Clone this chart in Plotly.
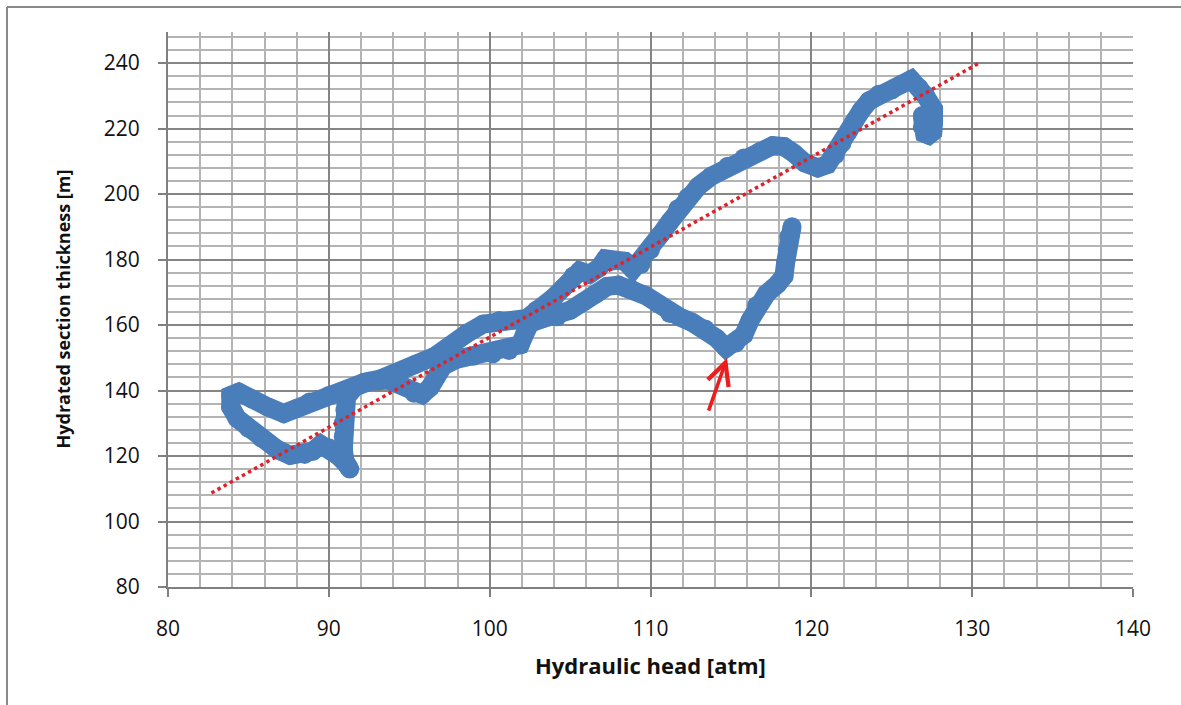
import plotly.graph_objects as go

# Hydraulic head [atm] vs hydrated section thickness [m], traced in time order
head_atm = [
    126.9, 126.9, 127.05, 127.3, 127.55, 127.6, 127.6, 127.1, 126.7, 126.2, 125.6, 125.0, 124.2, 123.6,
    123.1, 122.7, 122.3, 121.9, 121.5, 121.0, 120.4, 119.6, 118.9, 118.3,
    117.6, 116.8, 115.8, 114.8, 113.8, 113.0, 112.3, 111.7, 111.2, 110.6,
    110.0, 109.4, 108.9, 108.4, 107.6, 107.2, 106.8, 106.2, 105.6, 105.2,
    104.6, 104.0, 103.4, 102.9, 102.3, 101.5, 100.6, 99.6, 98.6, 97.6,
    96.6, 95.4, 94.3, 93.2, 92.2, 91.2, 90.0, 88.8, 88.0, 87.2,
    86.2, 85.2, 84.4, 83.9, 83.9, 84.3, 85.0, 85.8, 86.8, 87.6,
    88.5, 89.0, 89.5, 90.0, 90.6, 91.1, 91.3, 91.0, 90.9, 90.9,
    90.9, 91.0, 91.1, 91.6, 92.5, 93.7, 94.6, 95.3, 95.8, 96.3,
    96.7, 97.1, 97.9, 99.0, 100.2, 101.2, 101.9, 102.2, 102.5, 103.2,
    104.2, 105.0, 105.8, 106.6, 107.3, 108.0, 108.8, 109.7, 110.5, 111.2,
    111.8, 112.6, 113.4, 114.1, 114.7, 115.3, 115.8, 116.2, 116.6, 117.2,
    117.9, 118.3, 118.4, 118.5, 118.6, 118.8,
]
thickness_m = [
    224.0, 220.5, 218.5, 218.0, 219.0, 222.0, 226.0, 230.0, 232.5, 235.0, 233.5, 231.8, 230.5, 228.5,
    225.5, 222.5, 219.0, 215.5, 212.0, 209.0, 208.0, 209.5, 212.5, 214.5,
    214.8, 213.0, 211.0, 208.5, 205.5, 202.5, 199.0, 195.5, 191.5, 187.5,
    183.0, 178.5, 177.0, 179.5, 179.5, 180.2, 177.5, 175.5, 176.5, 175.0,
    171.5, 168.5, 166.0, 164.5, 162.0, 161.5, 161.4, 160.3, 157.5, 153.5,
    150.5, 148.0, 145.5, 143.5, 142.5, 140.5, 138.5, 136.5, 134.5, 133.0,
    135.0, 137.5, 139.5, 138.5, 135.0, 131.5, 128.5, 125.5, 122.0, 120.2,
    120.5, 121.5, 123.5, 122.5, 120.0, 117.5, 116.0, 118.5, 122.0, 126.0,
    130.0, 134.0, 138.0, 141.0, 142.8, 143.2, 141.5, 139.2, 138.8, 141.0,
    144.5, 147.5, 149.5, 150.5, 151.2, 152.2, 154.0, 157.5, 160.5, 161.8,
    162.5, 164.5, 167.0, 169.5, 171.8, 172.2, 171.0, 169.0, 166.5, 163.5,
    162.5, 160.8, 158.8, 156.0, 153.0, 154.5, 157.0, 161.5, 166.0, 169.5,
    172.5, 175.0, 179.0, 183.0, 187.0, 190.0,
]

# Linear trend line end points
trend_x = [82.7, 130.5]
trend_y = [108.7, 240.2]

# Arrow marking the minimum of the lower branch (tail -> tip)
arrow_tail = [113.58, 133.4]
arrow_tip = [114.76, 149.9]

x_ticks = [80, 90, 100, 110, 120, 130, 140]
y_ticks = [80, 100, 120, 140, 160, 180, 200, 220, 240]

BLUE = "#4A7EBB"
RED = "#E0202A"
AXIS = "#808080"
FONT = "Open Sans"
TEXT = "#111111"

fig = go.Figure()

fig.add_trace(go.Scatter(
    x=head_atm, y=thickness_m, mode="lines+markers",
    line=dict(color=BLUE, width=19),
    marker=dict(color=BLUE, size=19, line=dict(width=0)),
    hoverinfo="skip", showlegend=False,
))

fig.add_trace(go.Scatter(
    x=trend_x, y=trend_y, mode="lines",
    line=dict(color=RED, width=3.5, dash="3.5px,3.5px"),
    hoverinfo="skip", showlegend=False,
))

fig.add_annotation(
    x=arrow_tip[0], y=arrow_tip[1], ax=arrow_tail[0], ay=arrow_tail[1],
    xref="x", yref="y", axref="x", ayref="y",
    text="", showarrow=True, arrowhead=5, arrowsize=1.2,
    arrowwidth=3.6, arrowcolor="#EE1C1C", standoff=0, startstandoff=0,
)

# Axis titles
fig.add_annotation(
    x=(650 - 168) / 965, y=(587 - 665) / 555, xref="paper", yref="paper",
    text="<b>Hydraulic head [atm]</b>", showarrow=False,
    font=dict(family=FONT, size=22, color=TEXT),
    xanchor="center", yanchor="middle",
)
fig.add_annotation(
    x=(62 - 168) / 965, y=0.5, xref="paper", yref="paper",
    text="<b>Hydrated section thickness [m]</b>", showarrow=False,
    textangle=-90, font=dict(family=FONT, size=18, color=TEXT),
    xanchor="center", yanchor="middle",
)

# Chart frame (left and top edges)
frame_left = (7 - 168) / 965
frame_top = (587 - 7) / 555
fig.add_shape(type="line", xref="paper", yref="paper",
              x0=frame_left, x1=frame_left, y0=frame_top, y1=-0.25,
              line=dict(color="#8A8A8A", width=2))
fig.add_shape(type="line", xref="paper", yref="paper",
              x0=frame_left, x1=1.1, y0=frame_top, y1=frame_top,
              line=dict(color="#8A8A8A", width=2))

fig.update_xaxes(
    range=[80, 140], tickvals=x_ticks, ticktext=[str(v) for v in x_ticks],
    showgrid=True, gridcolor="#858585", gridwidth=2,
    minor=dict(dtick=2, tick0=80, showgrid=True, gridcolor="#B4B4B4", gridwidth=2),
    showline=True, linecolor=AXIS, linewidth=2,
    ticks="outside", ticklen=8, tickwidth=2, tickcolor=AXIS,
    ticklabelstandoff=14,
    tickfont=dict(family=FONT, size=21, color=TEXT),
    zeroline=False,
)
fig.update_yaxes(
    range=[80, 249.5], tickvals=y_ticks, ticktext=[str(v) for v in y_ticks],
    showgrid=True, gridcolor="#858585", gridwidth=2,
    minor=dict(dtick=4, tick0=80, showgrid=True, gridcolor="#B4B4B4", gridwidth=2),
    showline=True, linecolor=AXIS, linewidth=2,
    ticks="outside", ticklen=8, tickwidth=2, tickcolor=AXIS,
    ticklabelstandoff=14,
    tickfont=dict(family=FONT, size=21, color=TEXT),
    zeroline=False,
)

fig.update_layout(
    width=1181, height=705,
    margin=dict(l=168, r=48, t=32, b=118),
    paper_bgcolor="white", plot_bgcolor="white",
    showlegend=False,
)

fig.write_html("out.html")
